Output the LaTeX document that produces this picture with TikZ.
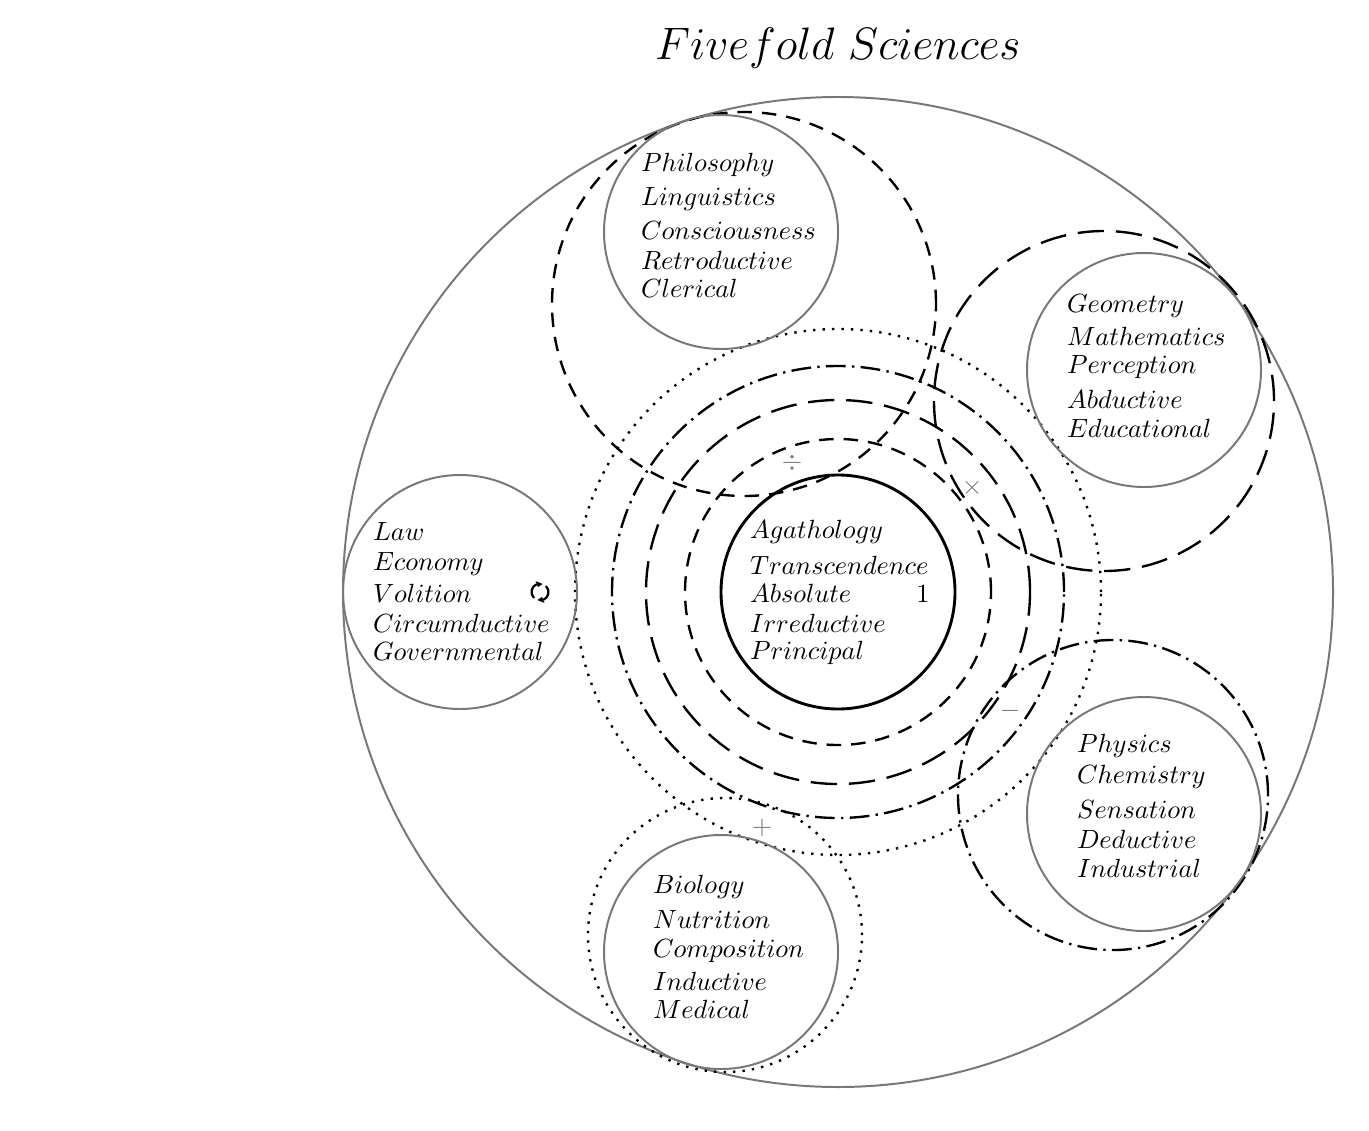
\documentclass[tikz,border=0pt]{standalone}
\usetikzlibrary{arrows.meta}
\definecolor{ringgray}{RGB}{120,120,120}
\begin{document}
\begin{tikzpicture}[x=0.38pt,y=0.38pt,
  graycirc/.style={draw=ringgray, line width=0.75pt},
  corecirc/.style={draw=black, line width=1.1pt},
  dashA/.style={draw=black, line width=0.9pt, dash pattern=on 5.5pt off 3.8pt},
  dashB/.style={draw=black, line width=0.9pt, dash pattern=on 10pt off 4.5pt},
  dashC/.style={draw=black, line width=0.9pt, dash pattern=on 7.5pt off 2.4pt on 0.9pt off 2.4pt},
  dashD/.style={draw=black, line width=0.9pt, dash pattern=on 0.9pt off 2.7pt},
  lbl/.style={anchor=base west, inner sep=0pt, outer sep=0pt},
  opsym/.style={text=ringgray, inner sep=0pt},
  cyc/.style={draw=black, line width=0.85pt}]
\useasboundingbox (0,0) rectangle (1369,-1130);

% centres
\coordinate (O)    at (838,-592);
\coordinate (Cph)  at (721,-232);
\coordinate (Cge)  at (1144,-370);
\coordinate (Cla)  at (460,-592);
\coordinate (Cpy)  at (1144,-814);
\coordinate (Cbi)  at (721,-952);
\coordinate (Dph)  at (744,-304);
\coordinate (Dge)  at (1104,-401);
\coordinate (Dpy)  at (1113,-795);
\coordinate (Dbi)  at (725,-935);
\coordinate (Sym)  at (540,-592);

% title
\node[anchor=base, inner sep=0pt] (title) at (838,-60) {\LARGE $Fivefold\ Sciences$};

% big circle
\draw[graycirc] (O) circle[radius=495];

% concentric rings
\draw[dashD] (O) circle[radius=263];
\draw[dashC] (O) circle[radius=226];
\draw[dashB] (O) circle[radius=192];
\draw[dashA] (O) circle[radius=153];
\draw[corecirc] (O) circle[radius=117];

% operation circles
\draw[dashA] (Dph) circle[radius=192];
\draw[dashB] (Dge) circle[radius=170];
\draw[dashC] (Dpy) circle[radius=155];
\draw[dashD] (Dbi) circle[radius=137];

% science circles
\draw[graycirc] (Cph) circle[radius=117];
\draw[graycirc] (Cge) circle[radius=117];
\draw[graycirc] (Cla) circle[radius=117];
\draw[graycirc] (Cpy) circle[radius=117];
\draw[graycirc] (Cbi) circle[radius=117];

% Philosophy
\node[lbl] (ph1) at (641,-172) {$Philosophy$};
\node[lbl] (ph2) at (641,-205) {$Linguistics$};
\node[lbl] (ph3) at (641,-239) {$Consciousness$};
\node[lbl] (ph4) at (641,-269) {$Retroductive$};
\node[lbl] (ph5) at (641,-297) {$Clerical$};

% Geometry
\node[lbl] (ge1) at (1067,-312) {$Geometry$};
\node[lbl] (ge2) at (1067,-345) {$Mathematics$};
\node[lbl] (ge3) at (1067,-373) {$Perception$};
\node[lbl] (ge4) at (1067,-408) {$Abductive$};
\node[lbl] (ge5) at (1067,-437) {$Educational$};

% Law
\node[lbl] (la1) at (373,-540) {$Law$};
\node[lbl] (la2) at (373,-570) {$Economy$};
\node[lbl] (la3) at (373,-602) {$Volition$};
\node[lbl] (la4) at (373,-632) {$Circumductive$};
\node[lbl] (la5) at (373,-660) {$Governmental$};

% Centre
\node[lbl] (ag1) at (750,-538) {$Agathology$};
\node[lbl] (ag2) at (750,-574) {$Transcendence$};
\node[lbl] (ag3) at (750,-602) {$Absolute$};
\node[lbl] (ag4) at (750,-632) {$Irreductive$};
\node[lbl] (ag5) at (750,-659) {$Principal$};
\node[anchor=base, inner sep=0pt] (one) at (923,-602) {$1$};

% Physics
\node[lbl] (py1) at (1077,-752) {$Physics$};
\node[lbl] (py2) at (1077,-783) {$Chemistry$};
\node[lbl] (py3) at (1077,-818) {$Sensation$};
\node[lbl] (py4) at (1077,-848) {$Deductive$};
\node[lbl] (py5) at (1077,-877) {$Industrial$};

% Biology
\node[lbl] (bi1) at (653,-893) {$Biology$};
\node[lbl] (bi2) at (653,-928) {$Nutrition$};
\node[lbl] (bi3) at (653,-957) {$Composition$};
\node[lbl] (bi4) at (653,-990) {$Inductive$};
\node[lbl] (bi5) at (653,-1018) {$Medical$};

% operators
\node[opsym] (opdiv)   at (792,-463) {$\div$};
\node[opsym] (optimes) at (972,-488) {$\times$};
\node[opsym] (opminus) at (1010,-711) {$-$};
\node[opsym] (opplus)  at (762,-828) {$+$};

% cycle symbol: two arcs with triangular heads
\draw[cyc] ([shift={(225:8.5)}]Sym) arc[start angle=225, end angle=112, radius=8.5];
\fill ([shift={(112:5.3)}]Sym) -- ([shift={(112:11.7)}]Sym) -- ([shift={(72:8.5)}]Sym) -- cycle;
\draw[cyc] ([shift={(45:8.5)}]Sym) arc[start angle=45, end angle=-68, radius=8.5];
\fill ([shift={(-68:5.3)}]Sym) -- ([shift={(-68:11.7)}]Sym) -- ([shift={(-108:8.5)}]Sym) -- cycle;
\end{tikzpicture}
\end{document}
